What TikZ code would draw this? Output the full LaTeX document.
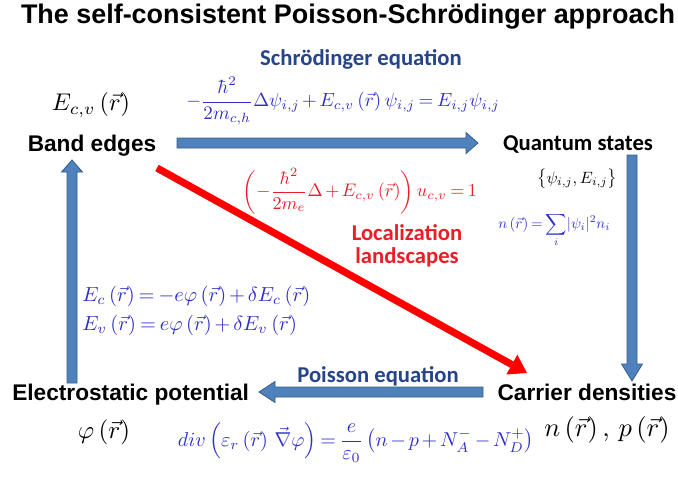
\documentclass[tikz,border=0pt]{standalone}
\usepackage{amsmath}
\usepackage{fontspec}
\usepackage{graphicx}
\usetikzlibrary{calc,arrows.meta}
\newfontfamily\arialfont{Liberation Sans}
\newfontfamily\califont{Carlito}
\definecolor{mblue}{RGB}{48,48,200}
\definecolor{lblue}{RGB}{38,68,138}
\definecolor{afill}{RGB}{79,129,189}
\definecolor{adraw}{RGB}{56,93,138}
\definecolor{tred}{RGB}{235,30,40}
\medmuskip=2.5mu plus 1mu minus 1mu
\thickmuskip=3.5mu plus 1mu minus 1mu
\newcommand\rr{\left(\vec r\right)}
\tikzset{
  lab/.style={font=\arialfont\bfseries\fontsize{17}{20}\selectfont, inner sep=0pt, anchor=base},
  clab/.style={font=\califont\bfseries\fontsize{17}{21}\selectfont, inner sep=0pt, anchor=base},
  eq/.style={inner sep=0pt},
  barrow/.style={fill=afill, draw=adraw, line width=0.6pt},
  rarrow/.style={draw=red, line width=5.4pt, -{Triangle[width=17pt,length=13pt,line width=0pt]}}
}
\newcommand\blockarrow[5]{%
  \filldraw[barrow]
  ($(#1)+({-5*(#4)},{5*(#3)})$) --
  ($(#2)+({-(#5)*(#3)-5*(#4)},{-(#5)*(#4)+5*(#3)})$) --
  ($(#2)+({-(#5)*(#3)-10.5*(#4)},{-(#5)*(#4)+10.5*(#3)})$) --
  (#2) --
  ($(#2)+({-(#5)*(#3)+10.5*(#4)},{-(#5)*(#4)-10.5*(#3)})$) --
  ($(#2)+({-(#5)*(#3)+5*(#4)},{-(#5)*(#4)-5*(#3)})$) --
  ($(#1)+({5*(#4)},{-5*(#3)})$) -- cycle;}
\begin{document}
\begin{tikzpicture}[x=0.75pt,y=-0.75pt]
\path[use as bounding box, fill=white] (0,0) rectangle (678,478);

\node[font=\arialfont\bfseries\fontsize{20.2}{24}\selectfont, inner sep=0pt] (title) at (348,17) {The self-consistent Poisson-Schrödinger approach};

% main labels
\node[lab] (be) at (92,151) {Band edges};
\node[clab] (qs) at (578,150) {Quantum states};
\node[lab] (cd) at (587,400) {Carrier densities};
\node[lab, anchor=base west] (ep) at (12,400) {Electrostatic potential};

% arrow labels
\node[clab, text=lblue] (sl) at (361,65) {Schrödinger equation};
\node[clab, text=lblue] (pl) at (378,382) {Poisson equation};
\node[clab, text=tred] (ll1) at (407,240) {Localization};
\node[clab, text=tred] (ll2) at (407,263) {landscapes};

% equations
\node[eq] (ecv) at (91,105) {\resizebox{58.5pt}{!}{$E_{c,v}\rr$}};
\node[eq, text=mblue] (seq) at (343,101) {\resizebox{235pt}{!}{$-\dfrac{\hbar^2}{2m_{c,h}}\Delta\psi_{i,j}+E_{c,v}\rr\psi_{i,j}=E_{i,j}\psi_{i,j}$}};
\node[eq, text=tred] (leq) at (360,191) {\resizebox{175.5pt}{!}{$\left(-\dfrac{\hbar^2}{2m_e}\Delta+E_{c,v}\rr\right)u_{c,v}=1$}};
\node[eq] (psie) at (577,179) {\resizebox{60pt}{!}{$\bigl\{\psi_{i,j},E_{i,j}\bigr\}$}};
\node[eq, text=mblue, anchor=west] (neq) at (498,230) {\resizebox{84pt}{!}{$n\rr=\displaystyle\sum_i\lvert\psi_i\rvert^2 n_i$}};
\node[eq, text=mblue, anchor=west] (eceq) at (82,296) {\resizebox{171pt}{!}{$E_c\rr=-e\varphi\rr+\delta E_c\rr$}};
\node[eq, text=mblue, anchor=west] (eveq) at (82,325) {\resizebox{161pt}{!}{$E_v\rr=e\varphi\rr+\delta E_v\rr$}};
\node[eq] (phi) at (104,432) {\resizebox{39pt}{!}{$\varphi\rr$}};
\node[eq, text=mblue] (diveq) at (356,443) {\resizebox{267pt}{!}{$div\left(\varepsilon_r\rr\,\vec\nabla\varphi\right)=\dfrac{e}{\varepsilon_0}\left(n-p+N_A^- -N_D^+\right)$}};
\node[eq] (np) at (607,430) {\resizebox{94pt}{!}{$n\rr,\,p\rr$}};

% arrow end points
\coordinate (t1) at (177,143); \coordinate (t2) at (478,143);
\coordinate (r1) at (632,155); \coordinate (r2) at (632,381);
\coordinate (b1) at (483,392); \coordinate (b2) at (259,392);
\coordinate (l1) at (72,383); \coordinate (l2) at (72,160);
\coordinate (d1) at (157,168); \coordinate (d2) at (527,373);

\blockarrow{t1}{t2}{1}{0}{12}
\blockarrow{r1}{r2}{0}{1}{17}
\blockarrow{b1}{b2}{-1}{0}{16}
\blockarrow{l1}{l2}{0}{-1}{12}
\draw[rarrow] (d1) -- (d2);
\end{tikzpicture}
\end{document}
